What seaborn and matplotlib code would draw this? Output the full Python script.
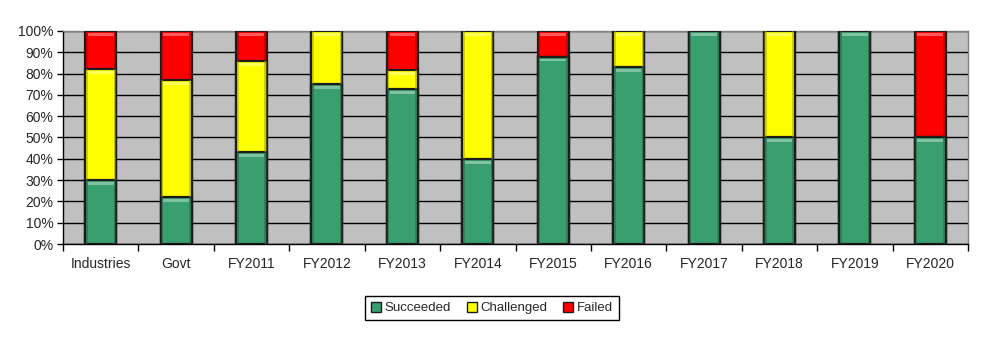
import matplotlib
matplotlib.use("Agg")
import matplotlib.pyplot as plt
import matplotlib.patches as mpatches
import matplotlib.colors as mcolors
from matplotlib.ticker import PercentFormatter, FixedLocator
from matplotlib.transforms import offset_copy
import seaborn as sns
import pandas as pd
import numpy as np

categories = ["Industries", "Govt", "FY2011", "FY2012", "FY2013", "FY2014",
              "FY2015", "FY2016", "FY2017", "FY2018", "FY2019", "FY2020"]
succeeded = [30, 22, 43, 75, 72.7, 40, 88, 83, 100, 50, 100, 50]
challenged = [52, 55, 43, 25, 9.1, 60, 0, 17, 0, 50, 0, 0]
failed = [18, 23, 14, 0, 18.2, 0, 12, 0, 0, 0, 0, 50]

series_names = ["Succeeded", "Challenged", "Failed"]
series_colors = ["#3a9f6e", "#ffff00", "#ff0000"]

df = pd.DataFrame({"category": categories, "Succeeded": succeeded,
                   "Challenged": challenged, "Failed": failed})
df["cum_s"] = df["Succeeded"]
df["cum_c"] = df["cum_s"] + df["Challenged"]
df["cum_f"] = df["cum_c"] + df["Failed"]

sns.set_style("ticks", {"axes.facecolor": "#c0c0c0"})
plt.rcParams["font.family"] = ["Liberation Sans", "DejaVu Sans"]

fig = plt.figure(figsize=(9.96, 3.42), dpi=100)
ax = fig.add_axes([63 / 996, 1 - 244 / 342, (968 - 63) / 996, (244 - 31) / 342])

edge = "#1c1c1c"
bar_w = 0.41
# stacked bars drawn from the cumulative total downward
for col, color in zip(["cum_f", "cum_c", "cum_s"], series_colors[::-1]):
    sns.barplot(data=df, x="category", y=col, color=color, width=bar_w,
                edgecolor=edge, linewidth=1.6, saturation=1, ax=ax, zorder=3)

ax.set_xlim(-0.5, len(categories) - 0.5)
ax.set_ylim(0, 100)

# bevel shading: light strip on top of each visible segment, darker sides
seg_bottoms = {"cum_f": "cum_c", "cum_c": "cum_s", "cum_s": None}
light = {c: mcolors.to_hex(0.65 * np.array(mcolors.to_rgb(c)) + 0.35) for c in series_colors}
dark = {c: mcolors.to_hex(0.6 * np.array(mcolors.to_rgb(c))) for c in series_colors}
tr_top = offset_copy(ax.transData, fig=fig, x=0, y=-2, units="dots")
for col, color in zip(["cum_s", "cum_c", "cum_f"], series_colors):
    low = df[seg_bottoms[col]] if seg_bottoms[col] else pd.Series(0, index=df.index)
    for i, (top, bot) in enumerate(zip(df[col], low)):
        if top - bot <= 0:
            continue
        x0 = i - bar_w / 2
        ax.add_patch(mpatches.Rectangle((x0 + 0.035, top), bar_w - 0.07, -1.3,
                                        facecolor=light[color], edgecolor="none",
                                        transform=tr_top, zorder=4))
        for xs in (x0 + 0.006, x0 + bar_w - 0.034):
            ax.add_patch(mpatches.Rectangle((xs, bot), 0.028, top - bot,
                                            facecolor=dark[color], edgecolor="none",
                                            alpha=0.45, zorder=4))

ax.set_yticks(np.arange(0, 101, 10))
ax.yaxis.set_major_formatter(PercentFormatter(decimals=0))
ax.yaxis.grid(True, color="black", linewidth=1.0, zorder=1)
ax.set_axisbelow(True)
ax.set_xlabel("")
ax.set_ylabel("")

# category boundaries carry the tick marks; labels sit at the centres
ax.xaxis.set_minor_locator(FixedLocator(np.arange(-0.5, len(categories), 1.0)))
ax.tick_params(axis="x", which="major", length=0, pad=9, labelsize=10)
ax.tick_params(axis="x", which="minor", length=5, width=1, color="black")
ax.tick_params(axis="y", length=4, width=1, color="black", labelsize=10, pad=3)

for side in ["left", "bottom"]:
    ax.spines[side].set_color("black")
    ax.spines[side].set_linewidth(1.0)
for side in ["top", "right"]:
    ax.spines[side].set_visible(True)
    ax.spines[side].set_color("#808080")
    ax.spines[side].set_linewidth(1.0)

handles = [mpatches.Patch(facecolor=c, edgecolor=edge, linewidth=1.0, label=n)
           for n, c in zip(series_names, series_colors)]
leg = fig.legend(handles=handles, loc="center", bbox_to_anchor=(0.494, 0.099),
                 ncol=3, frameon=True, fancybox=False, fontsize=9.5,
                 handlelength=0.75, handleheight=0.75, handletextpad=0.3,
                 columnspacing=1.2, borderpad=0.45)
leg.get_frame().set_edgecolor("black")
leg.get_frame().set_facecolor("white")
leg.get_frame().set_alpha(1.0)
leg.get_frame().set_linewidth(1.0)

fig.savefig("out.png", dpi=100, facecolor="white")
